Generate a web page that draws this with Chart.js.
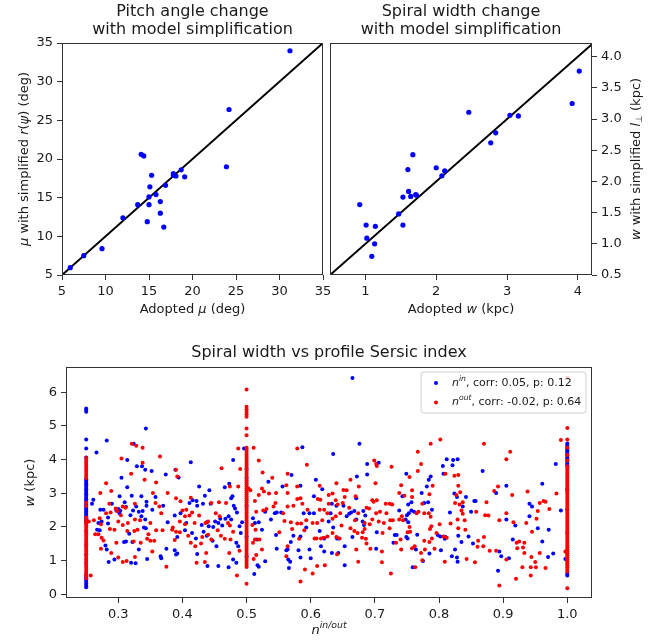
<!DOCTYPE html>
<html><head><meta charset="utf-8">
<script src="https://cdn.jsdelivr.net/npm/chart.js@4.4.0/dist/chart.umd.min.js"></script>
<style>
html,body{margin:0;padding:0;background:#fff;}
#wrap{position:relative;width:665px;height:642px;background:#fff;}
canvas{position:absolute;left:0;top:0;}
</style></head><body>
<div id="wrap">
<canvas id="c1" width="665" height="642"></canvas>
<canvas id="c2" width="665" height="642"></canvas>
<canvas id="c3" width="665" height="642"></canvas>
</div>
<script>
// ---------------- DATA ----------------
// Panel 1: pitch angle [adopted mu, simplified mu] (deg)
const pitchAdopted    = [5.95, 7.5, 9.6, 12.0, 13.7, 14.1, 14.4, 14.8, 15.0, 15.0, 15.1, 15.3, 15.8, 16.3, 16.3, 16.7, 16.9, 17.8, 17.8, 18.1, 18.7, 19.1, 23.9, 24.2, 31.2];
const pitchSimplified = [5.95, 7.5, 8.4, 12.4, 14.1, 20.6, 20.4, 11.9, 14.1, 15.1, 16.4, 17.9, 15.4, 14.5, 13.0, 11.2, 16.6, 18.1, 17.9, 17.8, 18.6, 17.7, 19.0, 26.4, 34.0];
const pitchTicks = [5, 10, 15, 20, 25, 30, 35];
const pitchDiag = [5, 35];

// Panel 2: spiral width [adopted w, simplified w] (kpc)
const widthAdopted    = [0.92, 1.01, 1.02, 1.09, 1.13, 1.14, 1.47, 1.53, 1.53, 1.60, 1.61, 1.64, 1.67, 1.71, 1.72, 2.00, 2.08, 2.12, 2.46, 2.77, 2.84, 3.04, 3.16, 3.92, 4.02];
const widthSimplified = [1.63, 1.30, 1.09, 0.80, 1.00, 1.28, 1.48, 1.75, 1.30, 2.19, 1.84, 1.76, 2.43, 1.79, 1.78, 2.22, 2.09, 2.17, 3.11, 2.62, 2.78, 3.06, 3.05, 3.25, 3.77];
const widthXTicks = [1, 2, 3, 4];
const widthYTicks = [0.5, 1.0, 1.5, 2.0, 2.5, 3.0, 3.5, 4.0];
const widthDiag = [0.5, 4.25];

// Panel 3: spiral width vs Sersic index, [n, w]
const nInPoints = [
[0.261,2.81],[0.259,2.69],[0.266,4.21],[0.282,4.57],[0.343,4.92],[0.324,4.47],[0.314,3.99],[0.329,3.80],[0.337,3.80],[0.342,3.70],[0.352,3.66],[0.305,3.46],[0.314,3.18],[0.374,3.56],[0.389,3.70],[0.302,2.91],[0.310,2.73],[0.321,2.93],[0.336,2.91],[0.344,2.75],[0.358,2.89],[0.290,2.69],[0.272,2.51],[0.277,2.51],[0.284,2.28],[0.297,2.49],[0.300,2.53],[0.303,2.49],[0.312,2.59],[0.323,2.49],[0.328,2.61],[0.332,2.45],[0.338,2.47],[0.344,2.63],[0.353,2.51],[0.370,2.63],[0.377,2.14],[0.388,2.34],[0.269,2.12],[0.274,2.16],[0.267,1.92],[0.271,1.90],[0.284,2.10],[0.302,2.41],[0.319,2.35],[0.336,2.32],[0.340,1.98],[0.343,1.96],[0.342,2.22],[0.317,1.80],[0.309,1.55],[0.312,1.57],[0.322,1.55],[0.332,1.33],[0.280,1.45],[0.282,1.33],[0.285,0.96],[0.294,1.03],[0.320,0.94],[0.327,0.92],[0.345,1.05],[0.366,1.13],[0.367,1.07],[0.375,1.35],[0.388,1.31],[0.390,1.18],
[0.413,3.92],[0.394,3.47],[0.397,2.41],[0.406,2.12],[0.411,2.71],[0.416,2.79],[0.422,2.77],[0.423,2.63],[0.426,3.20],[0.432,2.69],[0.435,2.93],[0.442,3.09],[0.444,2.69],[0.430,2.06],[0.433,1.86],[0.438,2.14],[0.441,2.02],[0.448,2.00],[0.451,2.16],[0.456,2.12],[0.462,2.04],[0.467,2.24],[0.459,2.24],[0.472,2.32],[0.476,2.22],[0.479,3.99],[0.480,2.63],[0.482,2.55],[0.478,2.91],[0.485,2.43],[0.466,3.18],[0.473,3.28],[0.476,2.85],[0.489,2.02],[0.491,1.82],[0.493,2.14],[0.484,1.53],[0.487,1.43],[0.479,1.03],[0.484,0.94],[0.439,0.84],[0.456,0.84],[0.472,0.80],[0.392,1.70],[0.392,1.21],[0.404,1.90],[0.415,1.82],[0.421,1.66],[0.423,1.20],[0.438,1.74],[0.447,1.59],[0.453,1.43],[0.510,2.26],[0.513,2.12],[0.516,1.63],[0.519,2.14],[0.524,1.92],[0.529,2.45],[0.534,3.34],[0.538,2.22],[0.544,2.41],[0.547,2.43],[0.546,1.76],[0.554,2.43],[0.556,3.20],[0.562,1.31],[0.547,1.35],[0.519,0.82],[0.512,0.60],[0.529,0.98],[0.517,0.86],[0.496,4.33],
[0.665,6.42],[0.676,4.47],[0.635,4.17],[0.587,4.37],[0.570,3.54],[0.608,3.40],[0.618,3.12],[0.584,3.22],[0.605,2.91],[0.672,3.50],[0.688,3.87],[0.688,3.56],[0.706,3.91],[0.671,2.85],[0.640,2.63],[0.633,2.69],[0.631,2.41],[0.651,2.63],[0.660,2.39],[0.663,2.43],[0.668,2.47],[0.656,2.32],[0.589,2.41],[0.598,2.41],[0.605,2.41],[0.671,2.22],[0.681,2.16],[0.682,2.47],[0.685,2.34],[0.683,2.06],[0.628,2.16],[0.635,1.98],[0.703,1.84],[0.702,1.35],[0.729,1.53],[0.731,1.76],[0.614,1.88],[0.616,1.43],[0.593,1.98],[0.573,1.74],[0.584,1.72],[0.569,1.55],[0.564,1.33],[0.581,1.31],[0.598,1.33],[0.621,1.27],[0.633,1.23],[0.643,1.23],[0.641,1.66],[0.621,1.66],[0.644,1.66],[0.653,1.43],[0.665,1.70],[0.565,1.03],[0.568,0.97],[0.584,1.09],[0.600,1.07],[0.566,0.78],[0.653,0.86],
[0.812,4.01],[0.822,3.99],[0.829,4.01],[0.806,3.81],[0.821,3.83],[0.807,3.58],[0.749,3.58],[0.787,3.50],[0.784,3.40],[0.781,3.20],[0.743,2.91],[0.773,3.01],[0.783,2.73],[0.777,2.71],[0.757,2.73],[0.752,2.67],[0.738,2.49],[0.757,2.49],[0.753,2.41],[0.750,2.35],[0.748,2.22],[0.761,2.45],[0.752,2.14],[0.789,2.51],[0.824,2.99],[0.828,2.89],[0.842,2.89],[0.855,2.77],[0.857,2.77],[0.868,3.66],[0.889,3.01],[0.905,3.22],[0.905,2.22],[0.817,2.43],[0.837,2.61],[0.850,2.45],[0.734,1.76],[0.749,1.70],[0.751,1.66],[0.766,1.77],[0.798,1.76],[0.802,1.72],[0.810,1.70],[0.809,1.65],[0.830,1.74],[0.835,1.55],[0.853,1.51],[0.846,1.72],[0.764,1.33],[0.785,1.21],[0.803,1.31],[0.825,1.33],[0.820,1.13],[0.828,1.09],[0.829,0.97],[0.775,0.99],[0.759,0.80],[0.894,1.27],[0.897,1.13],[0.892,0.70],
[0.982,3.87],[0.961,3.28],[0.941,2.69],[0.945,2.61],[0.919,2.04],[0.915,1.63],[0.941,2.32],[0.954,1.96],[0.971,1.92],[0.990,2.49],[0.961,1.57],[0.909,1.07],[0.970,1.11],[0.978,1.21],[0.997,1.05]
];
// n_in values piled at the index bounds (w only)
const nInAt025 = [5.52,5.47,5.42,4.60,4.33,4.06,3.42,3.37,3.31,3.27,3.22,3.16,3.12,3.07,3.01,2.97,2.92,2.86,2.82,2.77,2.72,2.66,2.62,2.57,2.52,2.46,2.42,2.37,2.32,2.26,2.22,2.17,2.12,1.88,1.47,1.18,0.93,0.58,0.53,0.48,0.43,0.37,0.31,0.26,0.21];
const nInAt050 = [3.72,3.45,2.62,1.71,1.12];
const nInAt100 = [4.48,4.43,4.38,4.33,4.28,4.23,4.18,4.13,4.08,4.03,3.98,3.93,3.88,3.83,3.10,2.52,1.83,1.22,0.62,0.56];

const nOutPoints = [
[0.257,0.56],[0.272,3.01],[0.281,3.30],[0.289,3.07],[0.305,4.03],[0.321,4.47],[0.328,4.41],[0.338,4.35],[0.338,3.91],[0.365,4.09],[0.320,3.58],[0.341,3.40],[0.359,3.32],[0.286,2.69],[0.296,2.55],[0.298,2.47],[0.307,2.61],[0.311,2.57],[0.326,2.69],[0.354,3.01],[0.377,3.01],[0.390,2.85],[0.254,2.16],[0.262,2.20],[0.271,2.26],[0.273,2.08],[0.281,2.41],[0.288,2.43],[0.300,2.16],[0.304,2.35],[0.307,2.06],[0.315,2.12],[0.325,1.88],[0.330,1.92],[0.334,2.20],[0.350,2.12],[0.358,2.71],[0.364,2.61],[0.367,2.41],[0.385,1.98],[0.390,1.86],[0.264,1.78],[0.269,1.78],[0.274,1.68],[0.277,1.60],[0.287,1.94],[0.294,1.92],[0.314,1.88],[0.326,2.22],[0.345,1.65],[0.350,1.59],[0.356,1.59],[0.359,1.90],[0.369,1.90],[0.384,1.92],[0.297,1.53],[0.324,1.57],[0.335,1.53],[0.273,1.35],[0.289,1.23],[0.307,0.96],[0.313,0.99],[0.300,1.09],[0.326,1.11],[0.353,1.27],[0.375,0.82],[0.388,1.61],[0.347,1.78],
[0.397,2.76],[0.392,3.50],[0.390,3.70],[0.400,2.49],[0.406,2.51],[0.413,2.87],[0.415,2.43],[0.411,2.34],[0.404,2.32],[0.396,2.16],[0.404,2.08],[0.396,1.84],[0.409,1.74],[0.413,1.53],[0.420,1.43],[0.429,1.51],[0.431,1.70],[0.440,1.77],[0.445,1.63],[0.437,1.23],[0.435,0.96],[0.422,0.94],[0.419,2.12],[0.426,2.34],[0.436,2.12],[0.440,2.16],[0.445,2.71],[0.457,2.73],[0.468,2.71],[0.452,2.41],[0.458,2.32],[0.455,1.90],[0.460,1.74],[0.466,1.65],[0.471,2.12],[0.474,2.04],[0.475,1.63],[0.479,1.86],[0.474,3.20],[0.487,3.20],[0.461,3.74],[0.490,3.72],[0.487,4.33],[0.511,4.35],[0.519,3.97],[0.525,3.62],[0.540,3.46],[0.524,3.14],[0.527,3.05],[0.519,2.95],[0.535,2.99],[0.546,3.01],[0.545,2.71],[0.542,2.61],[0.531,2.53],[0.526,2.49],[0.515,2.45],[0.503,3.14],[0.506,3.09],[0.513,2.77],[0.509,2.06],[0.514,1.92],[0.510,1.53],[0.513,1.63],[0.520,1.63],[0.524,1.33],[0.515,1.17],[0.511,1.05],[0.551,1.84],[0.557,2.41],[0.559,2.18],[0.564,3.58],[0.564,3.01],[0.562,1.13],[0.489,1.29],[0.485,0.56],[0.473,1.23],
[0.579,4.33],[0.594,3.85],[0.562,3.24],[0.579,3.20],[0.614,3.22],[0.640,3.30],[0.651,3.10],[0.656,3.09],[0.662,3.40],[0.675,3.20],[0.699,3.97],[0.702,3.87],[0.703,3.81],[0.701,3.30],[0.726,3.79],[0.579,2.83],[0.584,2.85],[0.587,2.69],[0.573,2.63],[0.611,2.83],[0.615,2.81],[0.628,2.95],[0.634,2.99],[0.639,2.79],[0.642,2.67],[0.646,2.41],[0.628,2.69],[0.621,2.51],[0.614,2.51],[0.626,2.41],[0.634,2.24],[0.639,2.32],[0.653,2.89],[0.650,2.71],[0.670,2.91],[0.687,2.57],[0.691,2.55],[0.696,2.79],[0.698,2.75],[0.703,2.79],[0.702,2.41],[0.708,2.45],[0.717,2.69],[0.723,2.69],[0.727,2.67],[0.718,2.41],[0.724,2.20],[0.728,2.20],[0.714,2.12],[0.706,2.16],[0.696,2.22],[0.692,2.08],[0.712,1.82],[0.723,1.96],[0.564,2.61],[0.569,2.14],[0.579,2.10],[0.585,2.10],[0.595,2.51],[0.593,2.20],[0.603,2.12],[0.610,2.12],[0.618,2.20],[0.571,1.94],[0.582,1.65],[0.590,1.90],[0.606,1.66],[0.609,1.66],[0.616,1.66],[0.620,1.68],[0.626,1.72],[0.634,1.82],[0.640,1.70],[0.645,1.66],[0.648,2.04],[0.662,1.96],[0.668,1.88],[0.673,1.82],[0.681,1.84],[0.684,1.94],[0.684,2.12],[0.674,2.41],[0.669,2.20],[0.660,2.57],[0.686,1.65],[0.687,1.51],[0.680,1.68],[0.693,1.35],[0.711,1.27],[0.671,1.33],[0.641,1.19],[0.674,0.97],[0.711,0.95],[0.610,0.84],[0.622,0.86],[0.591,0.74],[0.603,0.62],[0.584,0.38],[0.725,0.62],[0.564,1.43],
[0.802,4.60],[0.787,4.47],[0.767,4.23],[0.870,4.47],[0.772,3.87],[0.767,3.66],[0.754,3.48],[0.810,3.58],[0.824,3.52],[0.830,3.54],[0.830,3.22],[0.827,2.95],[0.833,3.03],[0.825,2.71],[0.832,2.67],[0.837,2.73],[0.835,2.49],[0.837,2.39],[0.758,3.09],[0.741,3.24],[0.738,3.01],[0.746,2.93],[0.758,2.89],[0.785,2.97],[0.790,3.22],[0.774,2.69],[0.765,2.41],[0.768,2.45],[0.777,2.41],[0.784,2.41],[0.787,2.30],[0.742,2.32],[0.738,2.22],[0.744,2.20],[0.754,2.00],[0.751,1.84],[0.755,1.86],[0.788,2.02],[0.786,1.94],[0.801,2.08],[0.818,2.10],[0.829,2.22],[0.830,1.96],[0.840,2.20],[0.841,1.92],[0.796,1.82],[0.740,1.63],[0.733,1.53],[0.741,1.33],[0.762,1.43],[0.758,1.37],[0.777,1.59],[0.785,1.55],[0.789,1.66],[0.807,1.72],[0.812,1.68],[0.778,1.33],[0.793,1.35],[0.772,1.23],[0.774,1.01],[0.763,0.80],[0.809,0.97],[0.843,1.05],[0.856,0.95],[0.861,1.59],[0.870,1.70],[0.860,1.41],[0.869,1.43],[0.874,2.73],[0.872,2.35],[0.877,2.34],[0.886,3.07],[0.892,3.20],[0.894,2.20],[0.889,1.29],[0.879,1.29],[0.905,1.03],[0.894,0.26],[0.858,2.45],
[0.911,4.23],[0.905,4.01],[0.914,2.95],[0.938,3.05],[0.957,2.71],[0.963,2.77],[0.966,2.75],[0.954,2.47],[0.972,2.53],[0.983,2.99],[0.990,4.58],[0.905,2.41],[0.916,2.14],[0.936,2.12],[0.952,2.24],[0.945,1.86],[0.925,1.57],[0.921,1.53],[0.933,1.53],[0.931,1.39],[0.922,1.37],[0.933,1.23],[0.944,1.11],[0.950,0.96],[0.957,1.23],[0.966,0.78],[0.930,0.80],[0.943,0.80],[0.951,0.80],[0.920,0.46],[0.943,0.56],[0.997,1.27]
];
const nOutAt025 = [4.05,3.99,3.93,3.87,3.81,3.75,3.69,3.63,3.57,3.51,3.45,2.72,2.62,2.28,2.22,2.16,2.10,2.04,1.98,1.92,1.86,1.80,1.74,1.68,1.62,1.56,1.50,1.44,1.38,1.32,1.26,1.20,1.14,1.08,1.02,0.96,0.90,0.84,0.78,0.72,0.66,0.60,0.54,0.48];
const nOutAt050 = [6.08,5.57,5.49,5.42,5.35,5.27,4.92,4.72,4.35,4.29,4.23,4.17,4.11,4.05,3.99,3.93,3.87,3.81,3.75,3.69,3.63,3.57,3.51,3.45,3.39,3.33,3.27,3.21,3.15,3.09,3.03,2.97,2.91,2.85,2.79,2.73,2.67,2.61,2.55,2.49,2.43,2.37,2.31,2.25,2.19,2.13,2.07,2.01,1.95,1.89,1.83,1.77,1.71,1.65,1.59,1.53,1.47,1.41,1.35,1.29,1.23,1.17,1.11,1.05,0.99,0.93,0.87,0.81,0.31];
const nOutAt100 = [6.43,4.94,4.60,4.36,4.14,3.97,3.80,3.74,3.68,3.62,3.56,3.50,3.44,3.38,3.32,3.26,3.20,3.14,3.08,3.02,2.96,2.90,2.84,2.78,2.72,2.66,2.60,2.54,2.48,2.42,2.36,2.30,2.24,2.18,2.12,2.06,2.00,1.94,1.88,1.82,1.76,1.70,1.64,1.58,1.52,1.46,1.40,1.34,1.28,1.22,1.16,1.10,1.04,0.98,0.92,0.86,0.80,0.74,0.68,0.18];
const sersicXTicks = [0.3, 0.4, 0.5, 0.6, 0.7, 0.8, 0.9, 1.0];
const sersicYTicks = [0, 1, 2, 3, 4, 5, 6];
const legendIn  = ', corr: 0.05, p: 0.12';
const legendOut = ', corr: -0.02, p: 0.64';

// ---------------- RENDERING ----------------
const W = 665, H = 642;
const FONT = '"DejaVu Sans", sans-serif';
const TXT = '#1a1a1a';
Chart.defaults.font.family = FONT;
Chart.defaults.font.size = 13;
Chart.defaults.color = TXT;
Chart.defaults.animation = false;

function rich(ctx, parts, x, y, align) {
  let total = 0;
  const ws = parts.map(p => {
    ctx.font = (p.i ? 'italic ' : '') + (p.s || 13) + 'px ' + FONT;
    const w = ctx.measureText(p.t).width; total += w; return w;
  });
  let cx = align === 'center' ? x - total / 2 : (align === 'right' ? x - total : x);
  ctx.textBaseline = 'middle'; ctx.textAlign = 'left'; ctx.fillStyle = TXT;
  parts.forEach((p, k) => {
    ctx.font = (p.i ? 'italic ' : '') + (p.s || 13) + 'px ' + FONT;
    ctx.fillText(p.t, cx, y + (p.dy || 0)); cx += ws[k];
  });
}
function vrich(ctx, parts, x, y) {
  ctx.save(); ctx.translate(x, y); ctx.rotate(-Math.PI / 2);
  rich(ctx, parts, 0, 0, 'center'); ctx.restore();
}
function makeFrame(extra) {
  return {
    id: 'frame',
    afterDraw(chart) {
      const ctx = chart.ctx, a = chart.chartArea;
      ctx.save();
      ctx.strokeStyle = '#333'; ctx.lineWidth = 1;
      ctx.strokeRect(Math.round(a.left) + 0.5, Math.round(a.top) + 0.5,
                     Math.round(a.right - a.left) - 1, Math.round(a.bottom - a.top) - 1);
      extra(ctx, a);
      ctx.restore();
    }
  };
}
function axis(pos, min, max, ticks, fmt, size) {
  return {
    type: 'linear', position: pos, min: min, max: max,
    afterBuildTicks: s => { s.ticks = ticks.map(v => ({ value: v })); },
    afterFit: s => { if (pos === 'bottom') s.height = size; else s.width = size; },
    grid: { drawOnChartArea: false, drawTicks: true, tickLength: 5, tickWidth: 1, tickColor: '#333' },
    border: { display: false },
    ticks: { padding: 4, color: TXT, font: { size: 13 }, autoSkip: false, maxRotation: 0,
             callback: v => fmt(v) }
  };
}
const fmtInt = v => String(Math.round(v));
const fmt1 = v => Number(v).toFixed(1);

// Panel 1
new Chart(document.getElementById('c1'), {
  type: 'scatter',
  data: { datasets: [
    { data: pitchAdopted.map((x, k) => ({ x: x, y: pitchSimplified[k] })),
      backgroundColor: '#0000ff', borderWidth: 0, pointRadius: 2.6, order: 0 },
    { type: 'line', showLine: true, data: pitchDiag.map(v => ({ x: v, y: v })),
      borderColor: '#000', borderWidth: 2, pointRadius: 0, fill: false, order: 1 }
  ]},
  options: {
    responsive: false, animation: false,
    layout: { padding: { left: 0, top: 43, right: W - 323, bottom: H - 275 - 45 } },
    plugins: { legend: { display: false }, tooltip: { enabled: false } },
    scales: {
      x: axis('bottom', 5, 35, pitchTicks, fmtInt, 45),
      y: axis('left', 5, 35, pitchTicks, fmtInt, 62)
    }
  },
  plugins: [makeFrame((ctx, a) => {
    const cx = (a.left + a.right) / 2;
    rich(ctx, [{ t: 'Pitch angle change', s: 16 }], cx, 12, 'center');
    rich(ctx, [{ t: 'with model simplification', s: 16 }], cx, 30, 'center');
    rich(ctx, [{ t: 'Adopted ' }, { t: 'μ', i: 1 }, { t: ' (deg)' }], cx, 310, 'center');
    vrich(ctx, [{ t: 'μ', i: 1 }, { t: ' with simplified ' }, { t: 'r', i: 1 }, { t: '(' },
                { t: 'ψ', i: 1 }, { t: ')' }, { t: ' (deg)' }], 25, (a.top + a.bottom) / 2);
  })]
});

// Panel 2
new Chart(document.getElementById('c2'), {
  type: 'scatter',
  data: { datasets: [
    { data: widthAdopted.map((x, k) => ({ x: x, y: widthSimplified[k] })),
      backgroundColor: '#0000ff', borderWidth: 0, pointRadius: 2.6, order: 0 },
    { type: 'line', showLine: true, data: widthDiag.map(v => ({ x: v, y: v })),
      borderColor: '#000', borderWidth: 2, pointRadius: 0, fill: false, order: 1 }
  ]},
  options: {
    responsive: false, animation: false,
    layout: { padding: { left: 330, top: 43, right: 0, bottom: H - 275 - 45 } },
    plugins: { legend: { display: false }, tooltip: { enabled: false } },
    scales: {
      x: axis('bottom', 0.5, 4.2, widthXTicks, fmtInt, 45),
      y: axis('right', 0.5, 4.22, widthYTicks, fmt1, 73)
    }
  },
  plugins: [makeFrame((ctx, a) => {
    const cx = (a.left + a.right) / 2;
    rich(ctx, [{ t: 'Spiral width change', s: 16 }], cx, 12, 'center');
    rich(ctx, [{ t: 'with model simplification', s: 16 }], cx, 30, 'center');
    rich(ctx, [{ t: 'Adopted ' }, { t: 'w', i: 1 }, { t: ' (kpc)' }], cx, 310, 'center');
    vrich(ctx, [{ t: 'w', i: 1 }, { t: ' with simplified ' }, { t: 'l', i: 1 },
                { t: '⊥', s: 9, dy: 3 }, { t: ' (kpc)' }], 637, (a.top + a.bottom) / 2);
  })]
});

// Panel 3
function stack(n, arr) { return arr.map(w => ({ x: n, y: w })); }
const inData = nInPoints.map(p => ({ x: p[0], y: p[1] }))
  .concat(stack(0.25, nInAt025), stack(0.5, nInAt050), stack(1.0, nInAt100));
const outData = nOutPoints.map(p => ({ x: p[0], y: p[1] }))
  .concat(stack(0.25, nOutAt025), stack(0.5, nOutAt050), stack(1.0, nOutAt100));

new Chart(document.getElementById('c3'), {
  type: 'scatter',
  data: { datasets: [
    { data: inData, backgroundColor: '#0000ff', borderWidth: 0, pointRadius: 2, order: 1 },
    { data: outData, backgroundColor: '#ff0000', borderWidth: 0, pointRadius: 2, order: 0 }
  ]},
  options: {
    responsive: false, animation: false,
    layout: { padding: { left: 0, top: 367, right: W - 592, bottom: H - 598 - 40 } },
    plugins: { legend: { display: false }, tooltip: { enabled: false } },
    scales: {
      x: axis('bottom', 0.2185, 1.0385, sersicXTicks, fmt1, 40),
      y: axis('left', -0.11, 6.75, sersicYTicks, fmtInt, 66)
    }
  },
  plugins: [makeFrame((ctx, a) => {
    const cx = (a.left + a.right) / 2;
    rich(ctx, [{ t: 'Spiral width vs profile Sersic index', s: 16 }], cx, 353, 'center');
    rich(ctx, [{ t: 'n', i: 1, s: 13 }, { t: 'in/out', i: 1, s: 9.3, dy: -5 }], cx, 631, 'center');
    vrich(ctx, [{ t: 'w', i: 1 }, { t: ' (kpc)' }], 31, (a.top + a.bottom) / 2);
    // legend
    const lx = 421, ly = 372, lw = 165, lh = 41, r = 3;
    ctx.beginPath();
    ctx.moveTo(lx + r, ly); ctx.lineTo(lx + lw - r, ly); ctx.arcTo(lx + lw, ly, lx + lw, ly + r, r);
    ctx.lineTo(lx + lw, ly + lh - r); ctx.arcTo(lx + lw, ly + lh, lx + lw - r, ly + lh, r);
    ctx.lineTo(lx + r, ly + lh); ctx.arcTo(lx, ly + lh, lx, ly + lh - r, r);
    ctx.lineTo(lx, ly + r); ctx.arcTo(lx, ly, lx + r, ly, r); ctx.closePath();
    ctx.fillStyle = 'rgba(255,255,255,0.8)'; ctx.fill();
    ctx.strokeStyle = '#d0d0d0'; ctx.lineWidth = 1; ctx.stroke();
    ctx.fillStyle = '#0000ff'; ctx.beginPath(); ctx.arc(436, 383, 2, 0, Math.PI * 2); ctx.fill();
    ctx.fillStyle = '#ff0000'; ctx.beginPath(); ctx.arc(436, 402.5, 2, 0, Math.PI * 2); ctx.fill();
    rich(ctx, [{ t: 'n', i: 1, s: 11 }, { t: 'in', i: 1, s: 7.7, dy: -4 }, { t: legendIn, s: 11 }], 452, 383, 'left');
    rich(ctx, [{ t: 'n', i: 1, s: 11 }, { t: 'out', i: 1, s: 7.7, dy: -4 }, { t: legendOut, s: 11 }], 452, 402.5, 'left');
  })]
});
</script>
</body></html>
